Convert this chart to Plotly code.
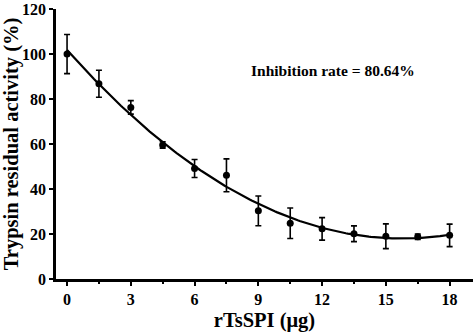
import numpy as np
import plotly.graph_objects as go

# rTsSPI dose (µg) and trypsin residual activity (%) with SD
dose = [0, 1.5, 3, 4.5, 6, 7.5, 9, 10.5, 12, 13.5, 15, 16.5, 18]
activity = [100.0, 86.8, 76.3, 59.6, 49.1, 46.1, 30.3, 24.8, 22.3, 20.1, 19.0, 18.8, 19.4]
sd = [8.7, 6.0, 3.0, 1.4, 4.0, 7.3, 6.6, 6.8, 5.0, 3.5, 5.5, 1.2, 5.0]

x_ticks = [0, 3, 6, 9, 12, 15, 18]
y_ticks = [0, 20, 40, 60, 80, 100, 120]

# Second-order polynomial fit through the measurements
coef = np.polyfit(dose, activity, 2)
xs = np.linspace(0, 18, 200)
ys = np.polyval(coef, xs)

FONT = "Times New Roman, Liberation Serif, serif"

fig = go.Figure()
fig.add_trace(go.Scatter(
    x=xs, y=ys, mode="lines",
    line=dict(color="black", width=2.2),
    hoverinfo="skip", showlegend=False,
))
fig.add_trace(go.Scatter(
    x=dose, y=activity, mode="markers",
    marker=dict(color="black", size=7),
    error_y=dict(type="data", array=sd, visible=True,
                 color="black", thickness=1.6, width=3),
    showlegend=False,
))

fig.add_annotation(
    xref="paper", yref="paper",
    x=(333 - 56) / (473 - 56), y=(283 - 69) / (283 - 6),
    xanchor="center", yanchor="middle",
    text="<b>Inhibition rate = 80.64%</b>", showarrow=False,
    font=dict(family=FONT, size=15.5, color="black"),
)

fig.update_layout(
    width=474, height=332,
    margin=dict(l=56, r=1, t=6, b=49),
    paper_bgcolor="white", plot_bgcolor="white",
    font=dict(family=FONT, color="black"),
)
fig.update_xaxes(
    range=[-0.52, 19.1],
    tickvals=x_ticks, ticktext=[f"<b>{v}</b>" for v in x_ticks],
    tickfont=dict(family=FONT, size=16),
    ticks="outside", ticklen=4, tickwidth=2.2, tickcolor="black",
    minor=dict(tickvals=[1.5, 4.5, 7.5, 10.5, 13.5, 16.5],
               ticks="outside", ticklen=2.5, tickwidth=2.2, tickcolor="black"),
    showline=True, linecolor="black", linewidth=2.6,
    showgrid=False, zeroline=False,
    title=dict(text="<b>rTsSPI (μg)</b>", font=dict(family=FONT, size=20.5), standoff=9),
)
fig.update_yaxes(
    range=[0, 120.05],
    tickvals=y_ticks, ticktext=[f"<b>{v}</b>" for v in y_ticks],
    tickfont=dict(family=FONT, size=16),
    ticklabeloverflow="allow",
    ticks="outside", ticklen=4, tickwidth=2.2, tickcolor="black",
    showline=True, linecolor="black", linewidth=2.6,
    showgrid=False, zeroline=False,
    title=dict(text="<b>Trypsin residual activity (%)</b>", font=dict(family=FONT, size=20.5), standoff=2),
)

fig.write_html("out.html")
